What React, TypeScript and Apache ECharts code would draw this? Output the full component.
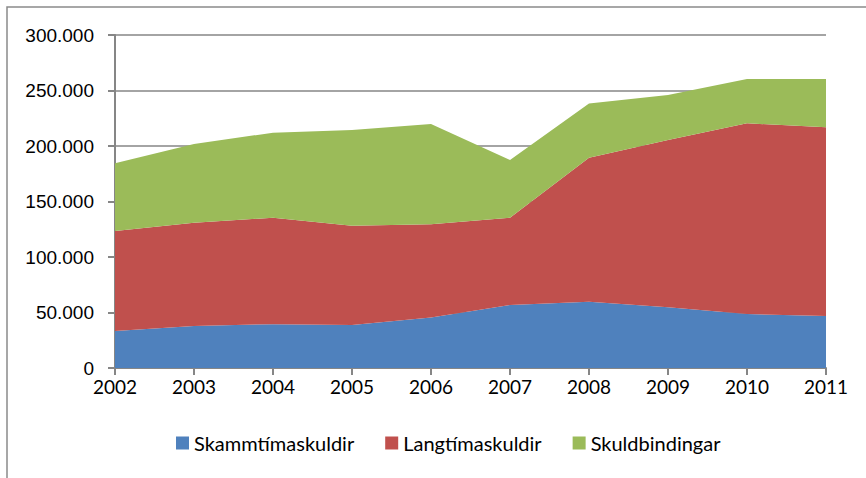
import React, { useEffect, useRef } from "react";
import * as echarts from "echarts";

const years = ["2002", "2003", "2004", "2005", "2006", "2007", "2008", "2009", "2010", "2011"];
const skammtima = [33300, 37800, 39500, 38700, 45600, 56800, 59700, 54700, 48600, 46800];
const langtima = [90100, 93100, 95900, 89500, 83800, 78600, 129800, 150700, 171800, 170000];
const skuldbindingar = [61000, 70900, 76600, 86200, 90400, 52000, 48900, 40500, 40000, 43600];
const seriesNames = ["Skammtímaskuldir", "Langtímaskuldir", "Skuldbindingar"];
const colors = ["#4F81BD", "#C0504D", "#9BBB59"];

function fmt(v: number): string {
  return String(Math.round(v)).replace(/\B(?=(\d{3})+(?!\d))/g, ".");
}

export default function App() {
  const ref = useRef<HTMLDivElement>(null);
  useEffect(() => {
    const chart = echarts.init(ref.current!, null, { renderer: "svg" });
    const data = [skammtima, langtima, skuldbindingar];
    chart.setOption({
      animation: false,
      backgroundColor: "#ffffff",
      color: colors,
      graphic: [
        {
          type: "rect",
          shape: { x: 7, y: 7, width: 900, height: 520 },
          style: { fill: "none", stroke: "#8a8a8a", lineWidth: 1.5 },
          silent: true,
        },
      ],
      grid: { left: 115, right: 40, top: 35, bottom: 110, containLabel: false },
      legend: {
        bottom: 20,
        left: 171,
        itemWidth: 13,
        itemHeight: 13,
        itemGap: 31,
        icon: "rect",
        textStyle: { fontFamily: "Lato", fontSize: 20, color: "#000" },
        data: seriesNames,
      },
      xAxis: {
        type: "category",
        boundaryGap: false,
        data: years,
        axisLine: { lineStyle: { color: "#868686", width: 2 } },
        axisTick: { show: true, length: 7, lineStyle: { color: "#868686", width: 2 }, alignWithLabel: true },
        axisLabel: { fontFamily: "Lato", fontSize: 19, color: "#000", margin: 9 },
        splitLine: { show: false },
      },
      yAxis: {
        type: "value",
        min: 0,
        max: 300000,
        interval: 50000,
        axisLine: { show: true, lineStyle: { color: "#868686", width: 2 } },
        axisTick: { show: true, length: 7, lineStyle: { color: "#868686", width: 2 } },
        axisLabel: {
          fontFamily: "Liberation Sans",
          fontSize: 19,
          color: "#000",
          margin: 21,
          formatter: (v: number) => fmt(v),
        },
        splitLine: { show: true, lineStyle: { color: "#868686", width: 1.5 } },
      },
      series: seriesNames.map((name, i) => ({
        name,
        type: "line",
        stack: "total",
        data: data[i],
        symbol: "none",
        lineStyle: { width: 0 },
        areaStyle: { color: colors[i], opacity: 1 },
        z: 3,
      })),
    });
    return () => chart.dispose();
  }, []);
  return (
    <div
      ref={ref}
      style={{ position: "absolute", left: 0, top: 0, width: 866, height: 478 }}
    />
  );
}
